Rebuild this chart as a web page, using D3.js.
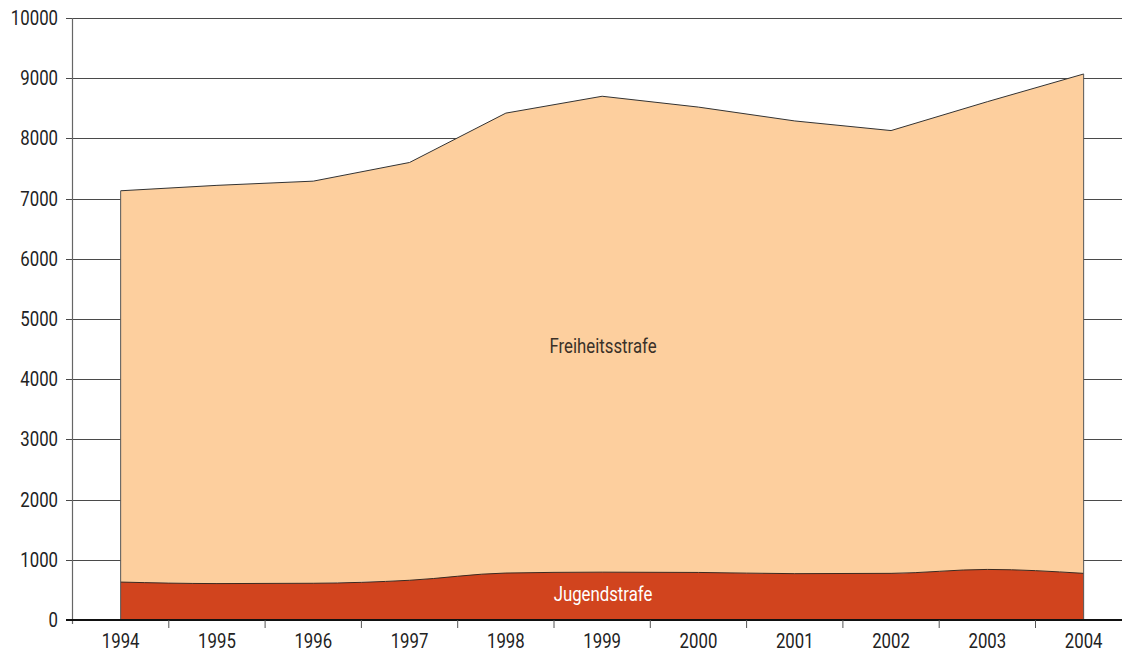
<!DOCTYPE html>
<html><head><meta charset="utf-8">
<script src="https://cdn.jsdelivr.net/npm/d3@7/dist/d3.min.js"></script>
<style>
html,body{margin:0;padding:0;background:#fff;}
svg{display:block;font-family:"Liberation Sans Narrow","Arial Narrow","Roboto",sans-serif;}
</style></head>
<body><svg id="c" width="1122" height="655"></svg>
<script>
const years = ["1994","1995","1996","1997","1998","1999","2000","2001","2002","2003","2004"];
const totalValues = [7130, 7220, 7290, 7600, 8420, 8700, 8520, 8290, 8130, 8610, 9070];
const jugendValues = [630, 605, 610, 660, 780, 795, 790, 770, 775, 840, 775];
const yTicks = [0,1000,2000,3000,4000,5000,6000,7000,8000,9000,10000];
const seriesLabels = ["Freiheitsstrafe","Jugendstrafe"];

(function(){
const svg = d3.select("#c");
const mLeft = 72.5, mTop = 18, mBottom = 620, mRight = 1131.8;
const sx = 0.84;
const x = d3.scaleBand().domain(years).range([mLeft, mRight]).padding(0);
const y = d3.scaleLinear().domain([0,10000]).range([mBottom, mTop]);
const cx = d => x(d) + x.bandwidth()/2;

svg.append("g").selectAll("line").data(yTicks.filter(t=>t>0)).join("line")
  .attr("x1", 66).attr("x2", 1122)
  .attr("y1", d=>Math.round(y(d))+0.5).attr("y2", d=>Math.round(y(d))+0.5)
  .attr("stroke", "#4a4a4a").attr("stroke-width", 1);

const data = years.map((yr,i)=>({yr, total: totalValues[i], jug: jugendValues[i]}));

const areaTop = d3.area().x(d=>cx(d.yr)).y0(d=>y(d.jug)).y1(d=>y(d.total)).curve(d3.curveLinear);
svg.append("path").datum(data).attr("d", areaTop)
  .attr("fill", "#fdcf9e").attr("stroke", "none");
const areaBot = d3.area().x(d=>cx(d.yr)).y0(y(0)).y1(d=>y(d.jug)).curve(d3.curveMonotoneX);
svg.append("path").datum(data).attr("d", areaBot)
  .attr("fill", "#d1441e").attr("stroke", "none");
const lineTop = d3.line().x(d=>cx(d.yr)).y(d=>y(d.total));
svg.append("path").datum(data).attr("d", lineTop).attr("fill","none").attr("stroke","#333").attr("stroke-width",1);
const lineBot = d3.line().x(d=>cx(d.yr)).y(d=>y(d.jug)).curve(d3.curveMonotoneX);
svg.append("path").datum(data).attr("d", lineBot).attr("fill","none").attr("stroke","#3a2a20").attr("stroke-width",1);
[data[0], data[data.length-1]].forEach(d=>{
  svg.append("line").attr("x1", cx(d.yr)).attr("x2", cx(d.yr))
    .attr("y1", y(0)).attr("y2", y(d.total)).attr("stroke","#555").attr("stroke-width",1);
});

svg.append("line").attr("x1", mLeft).attr("x2", mLeft).attr("y1", mTop).attr("y2", mBottom+4)
  .attr("stroke", "#666").attr("stroke-width", 1.2);
svg.append("g").selectAll("text").data(yTicks).join("text")
  .attr("transform", d=>`translate(58,${y(d)}) scale(${sx},1)`).attr("dy","0.35em")
  .attr("text-anchor","end").attr("font-size", 20).attr("fill","#222")
  .text(d=>d);
svg.append("line").attr("x1", 66).attr("x2", 1122).attr("y1", mBottom).attr("y2", mBottom)
  .attr("stroke", "#111").attr("stroke-width", 2.2);
svg.append("g").selectAll("line").data(years.slice(1)).join("line")
  .attr("x1", d=>x(d)).attr("x2", d=>x(d)).attr("y1", mBottom).attr("y2", mBottom+8)
  .attr("stroke","#555").attr("stroke-width",1);
svg.append("g").selectAll("text").data(years).join("text")
  .attr("transform", d=>`translate(${cx(d)},648) scale(${sx},1)`).attr("text-anchor","middle")
  .attr("font-size", 20).attr("fill","#222").text(d=>d);

svg.append("text").attr("transform", `translate(603,353) scale(${sx},1)`).attr("text-anchor","middle")
  .attr("font-size", 20).attr("fill","#3a3128").text(seriesLabels[0]);
svg.append("text").attr("transform", `translate(603,601) scale(${sx},1)`).attr("text-anchor","middle")
  .attr("font-size", 20).attr("fill","#fff").text(seriesLabels[1]);
})();
</script></body></html>
